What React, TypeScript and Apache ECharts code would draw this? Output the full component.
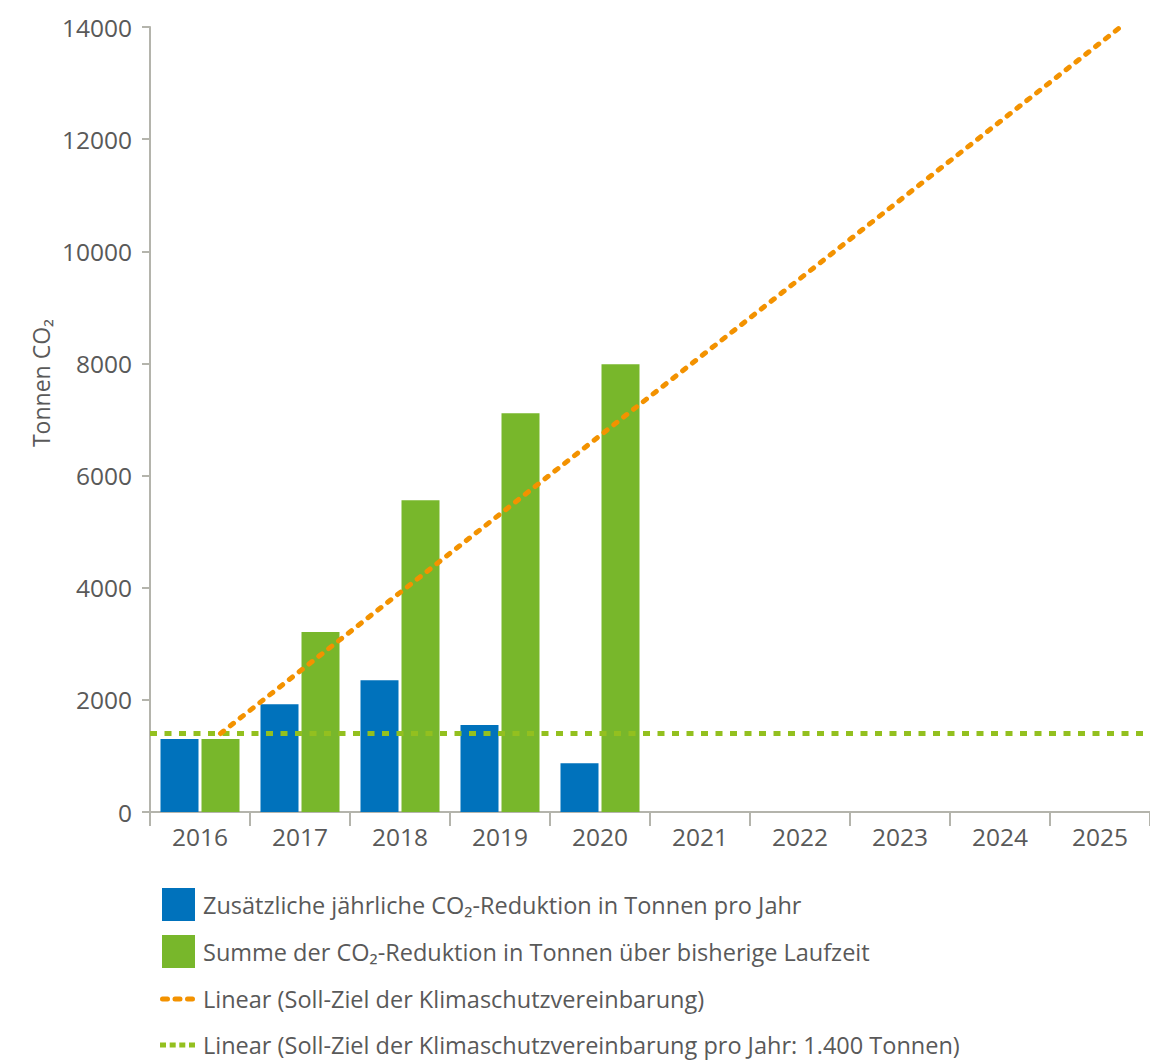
import React, { useEffect, useRef } from "react";
import * as echarts from "echarts";

const years = ["2016", "2017", "2018", "2019", "2020", "2021", "2022", "2023", "2024", "2025"];
const annualReduction = [1300, 1920, 2350, 1550, 870, null, null, null, null, null];
const cumulativeReduction = [1300, 3210, 5560, 7110, 7985, null, null, null, null, null];
const targetCumulative = [1400, 2800, 4200, 5600, 7000, 8400, 9800, 11200, 12600, 14000];
const targetPerYear = 1400;
const yTicks = { min: 0, max: 14000, interval: 2000 };

const names = [
  "Zusätzliche jährliche CO₂-Reduktion in Tonnen pro Jahr",
  "Summe der CO₂-Reduktion in Tonnen über bisherige Laufzeit",
  "Linear (Soll-Ziel der Klimaschutzvereinbarung)",
  "Linear (Soll-Ziel der Klimaschutzvereinbarung pro Jahr: 1.400 Tonnen)",
];

const BLUE = "#0072bc";
const GREEN = "#78b72b";
const ORANGE = "#f39200";
const LIGHTGREEN = "#93c01f";
const TEXT = "#595959";
const AXIS = "#b4b4ac";
const FONT = "'Open Sans', 'Noto Sans', sans-serif";

const ORANGE_ICON =
  "path://M2.5,0h5a2.5,2.5 0 0 1 0,5h-5a2.5,2.5 0 0 1 0,-5z" +
  "M15,0h5a2.5,2.5 0 0 1 0,5h-5a2.5,2.5 0 0 1 0,-5z" +
  "M27.5,0h5a2.5,2.5 0 0 1 0,5h-5a2.5,2.5 0 0 1 0,-5z";
const GREEN_ICON =
  "path://M0,0h6v5h-6z M9.7,0h6v5h-6z M19.3,0h6v5h-6z M29,0h6v5h-6z";

export default function App() {
  const ref = useRef<HTMLDivElement>(null);
  useEffect(() => {
    if (!ref.current) return;
    const chart = echarts.init(ref.current, null, { renderer: "svg" });
    const barWidth = 38;
    const gap = 3;
    const greenOffset = (barWidth + gap) / 2 / 100; // fraction of a category (100px)
    const legendText = { color: TEXT, fontSize: 23.5, fontFamily: FONT };
    chart.setOption({
      animation: false,
      textStyle: { fontFamily: FONT },
      grid: { left: 150, right: -2, top: 27, bottom: 249, containLabel: false },
      xAxis: [
        {
          type: "category",
          data: years,
          axisLine: { lineStyle: { color: AXIS, width: 2 } },
          axisTick: { show: true, length: 14, lineStyle: { color: AXIS, width: 2 } },
          axisLabel: { color: TEXT, fontSize: 24.5, margin: 12, fontFamily: FONT },
        },
        {
          type: "value",
          min: -0.5,
          max: 9.5,
          show: false,
        },
      ],
      yAxis: {
        type: "value",
        min: yTicks.min,
        max: yTicks.max,
        interval: yTicks.interval,
        axisLine: { show: true, onZero: false, lineStyle: { color: AXIS, width: 2 } },
        axisTick: { show: true, length: 8, lineStyle: { color: AXIS, width: 2 } },
        axisLabel: {
          color: TEXT,
          fontSize: 24.5,
          margin: 18,
          fontFamily: FONT,
          formatter: (v: number) => String(v),
        },
        splitLine: { show: false },
      },
      legend: [
        {
          orient: "vertical",
          left: 162,
          top: 888,
          padding: 0,
          itemWidth: 33,
          itemHeight: 33,
          itemGap: 14,
          textStyle: { ...legendText, padding: [0, 0, 0, 3] },
          data: [
            { name: names[0], icon: "rect" },
            { name: names[1], icon: "rect" },
          ],
        },
        {
          orient: "vertical",
          left: 160,
          top: 986,
          height: 120,
          itemWidth: 35,
          itemHeight: 5,
          itemGap: 20,
          padding: 0,
          textStyle: { ...legendText, lineHeight: 26, padding: [0, 0, 0, 3] },
          data: [
            { name: names[2], icon: ORANGE_ICON, itemStyle: { color: ORANGE } },
            { name: names[3], icon: GREEN_ICON, itemStyle: { color: LIGHTGREEN } },
          ],
        },
      ],
      graphic: [
        {
          type: "text",
          x: 41,
          y: 383,
          rotation: Math.PI / 2,
          style: {
            text: "Tonnen CO₂",
            fill: TEXT,
            font: `23px ${FONT}`,
            textAlign: "center",
            textVerticalAlign: "middle",
          },
        },
      ],
      series: [
        {
          name: names[0],
          type: "bar",
          data: annualReduction,
          barWidth,
          barGap: `${(gap / barWidth) * 100}%`,
          itemStyle: { color: BLUE },
        },
        {
          name: names[1],
          type: "bar",
          data: cumulativeReduction,
          barWidth,
          itemStyle: { color: GREEN },
        },
        {
          name: names[3],
          type: "line",
          xAxisIndex: 1,
          data: [
            [-0.5, targetPerYear],
            [9.5, targetPerYear],
          ],
          symbol: "none",
          lineStyle: { color: LIGHTGREEN, width: 5, type: [7, 7.5], cap: "butt" },
          itemStyle: { color: LIGHTGREEN },
          z: 3,
        },
        {
          name: names[2],
          type: "line",
          xAxisIndex: 1,
          data: targetCumulative.map((v, i) => [i + greenOffset, v]),
          symbol: "none",
          lineStyle: { color: ORANGE, width: 5, type: [4, 8.5], cap: "round" },
          itemStyle: { color: ORANGE },
          z: 4,
        },
      ],
    });
    return () => chart.dispose();
  }, []);
  return (
    <div
      ref={ref}
      style={{ position: "fixed", left: 0, top: 0, width: 1150, height: 1061, background: "#fff" }}
    />
  );
}
